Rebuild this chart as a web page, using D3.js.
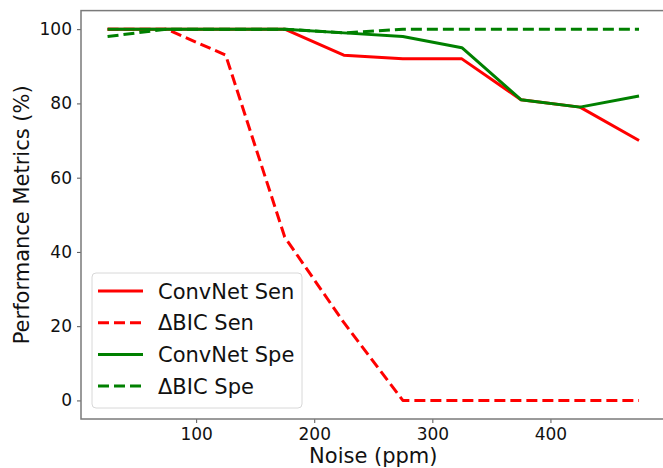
<!DOCTYPE html>
<html><head><meta charset="utf-8">
<script src="https://cdn.jsdelivr.net/npm/d3@7"></script>
<style>body{margin:0;background:#fff}svg{display:block}text{font-family:"DejaVu Sans",sans-serif}</style>
</head><body><svg id="c" width="663" height="468"></svg>
<script>
const noise = [25, 75, 125, 175, 225, 275, 325, 375, 425, 475];
const convnetSen = [100, 100, 100, 100, 93, 92, 92, 81, 79, 70];
const bicSen = [100, 100, 93, 44, 21, 0, 0, 0, 0, 0];
const convnetSpe = [100, 100, 100, 100, 99, 98, 95, 81, 79, 82];
const bicSpe = [98, 100, 100, 100, 99, 100, 100, 100, 100, 100];
const xTicks = [100, 200, 300, 400];
const yTicks = [0, 20, 40, 60, 80, 100];
const seriesNames = ["ConvNet Sen", "\u0394BIC Sen", "ConvNet Spe", "\u0394BIC Spe"];

const series = [
  {name: seriesNames[0], values: convnetSen, color: "#ff0000", dash: null},
  {name: seriesNames[1], values: bicSen, color: "#ff0000", dash: "11,5"},
  {name: seriesNames[2], values: convnetSpe, color: "#008000", dash: null},
  {name: seriesNames[3], values: bicSpe, color: "#008000", dash: "11,5"}
];

const svg = d3.select("#c");
const L = 81, R = 665.6, T = 10.6, B = 419;
const x = d3.scaleLinear().domain([2.5, 497.5]).range([L, R]);
const y = d3.scaleLinear().domain([-5, 105]).range([B, T]);

const g = svg.append("g");
// lines
const line = d3.line().x((d, i) => x(noise[i])).y(d => y(d));
series.forEach(s => {
  g.append("path").datum(s.values)
    .attr("d", line).attr("fill", "none")
    .attr("stroke", s.color).attr("stroke-width", 3)
    .attr("stroke-dasharray", s.dash)
    .attr("stroke-linejoin", "round");
});

// axes
const xa = svg.append("g").attr("transform", `translate(0,${B})`)
  .call(d3.axisBottom(x).tickValues(xTicks).tickSize(4).tickPadding(5).tickFormat(d3.format("d")));
const ya = svg.append("g").attr("transform", `translate(${L},0)`)
  .call(d3.axisLeft(y).tickValues(yTicks).tickSize(4).tickPadding(5).tickFormat(d3.format("d")));
[xa, ya].forEach(a => {
  a.select(".domain").remove();
  a.selectAll(".tick line").attr("stroke", "#555").attr("stroke-width", 1);
  a.selectAll(".tick text").attr("font-size", 17).attr("fill", "#111").attr("font-family", "DejaVu Sans");
});
// spines
svg.append("rect").attr("x", L).attr("y", T).attr("width", R - L).attr("height", B - T)
  .attr("fill", "none").attr("stroke", "#7a7a7a").attr("stroke-width", 1.5);

// labels
svg.append("text").attr("x", (L + R) / 2 - 0).attr("y", 463).attr("text-anchor", "middle")
  .attr("font-size", 21).attr("fill", "#111").text("Noise (ppm)");
svg.append("text").attr("transform", `translate(29,${(T + B) / 2}) rotate(-90)`)
  .attr("text-anchor", "middle").attr("font-size", 21).attr("fill", "#111")
  .text("Performance Metrics (%)");

// legend
const lg = svg.append("g");
lg.append("rect").attr("x", 92).attr("y", 273).attr("width", 210).attr("height", 135)
  .attr("rx", 4).attr("fill", "rgba(255,255,255,0.8)").attr("stroke", "#d8d8d8").attr("stroke-width", 1);
series.forEach((s, i) => {
  const yy = 291 + i * 31.7;
  lg.append("line").attr("x1", 98).attr("x2", 143).attr("y1", yy).attr("y2", yy)
    .attr("stroke", s.color).attr("stroke-width", 3).attr("stroke-dasharray", s.dash);
  lg.append("text").attr("x", 158).attr("y", yy).attr("dy", "0.36em")
    .attr("font-size", 21).attr("fill", "#111").text(s.name);
});
</script></body></html>
